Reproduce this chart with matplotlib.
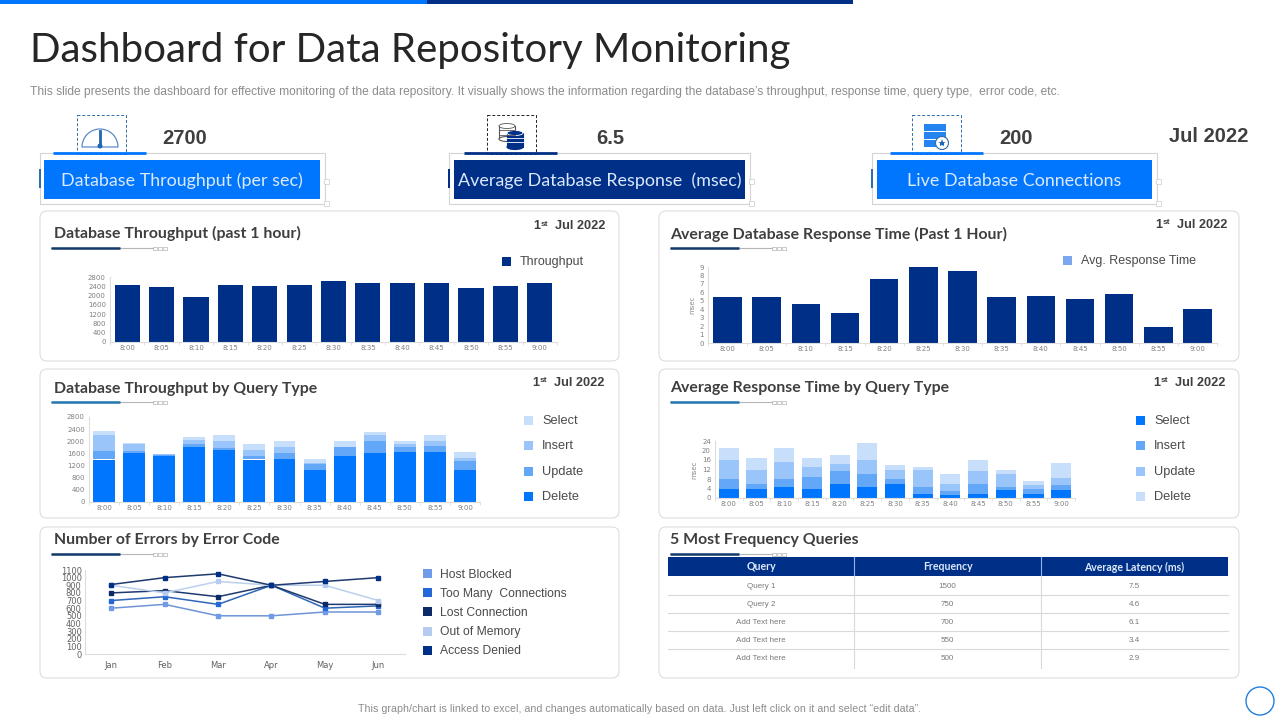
import matplotlib
matplotlib.use("Agg")
import matplotlib.pyplot as plt
from matplotlib.patches import Rectangle, FancyBboxPatch, Circle, Ellipse, Wedge

# === DATA ===
times = ["8:00", "8:05", "8:10", "8:15", "8:20", "8:25", "8:30", "8:35", "8:40", "8:45", "8:50", "8:55", "9:00"]
months = ["Jan", "Feb", "Mar", "Apr", "May", "Jun"]

throughput = [2450, 2380, 1930, 2460, 2420, 2450, 2640, 2550, 2550, 2550, 2340, 2420, 2550]
response = [5.5, 5.5, 4.6, 3.5, 7.6, 9, 8.5, 5.5, 5.6, 5.2, 5.8, 1.95, 4]

tp_delete = [1400, 1600, 1500, 1800, 1700, 1400, 1420, 1060, 1500, 1600, 1660, 1660, 1060]
tp_update = [280, 80, 40, 120, 80, 100, 200, 200, 300, 420, 140, 200, 300]
tp_insert = [540, 240, 30, 120, 240, 200, 200, 30, 0, 200, 120, 160, 90]
tp_select = [120, 30, 20, 110, 200, 220, 200, 110, 220, 100, 100, 200, 200]

rt_select = [4, 4, 4.8, 4, 6, 4.8, 6, 1.8, 1.4, 1.8, 3.2, 1.8, 3.2]
rt_insert = [4, 2, 3.2, 5, 5.2, 5.2, 2, 2.8, 1.6, 4.2, 1.4, 2.2, 2.4]
rt_update = [8, 6, 7, 4, 3, 6, 4, 7.4, 3, 5.2, 5.4, 1.6, 3]
rt_delete = [5, 5, 6, 4, 3.8, 7, 2, 1, 4, 4.8, 2, 1.4, 6]

err_host = [600, 650, 500, 500, 550, 550]
err_conn = [700, 750, 650, 900, 600, 630]
err_lost = [800, 830, 750, 900, 650, 650]
err_memory = [900, 800, 950, 900, 900, 700]
err_denied = [910, 1000, 1050, 900, 950, 1000]
err_names = ["Host Blocked", "Too Many  Connections", "Lost Connection", "Out of Memory", "Access Denied"]

table_head = ["Query", "Frequency", "Average Latency (ms)"]
table_query = ["Query 1", "Query 2", "Add Text here", "Add Text here", "Add Text here"]
table_freq = ["1500", "750", "700", "550", "500"]
table_lat = ["7.5", "4.6", "6.1", "3.4", "2.9"]

BLUE = "#0076FF"
NAVY = "#002F87"
MID = "#62A7F8"
LIGHT = "#99C5FA"
PALE = "#C8DFFC"
DARK = "#3F3F3F"
GREY = "#8C8C8C"
HEAD_FONT = "Lato"
BODY_FONT = "Liberation Sans"

fig = plt.figure(figsize=(12.8, 7.2), dpi=100)
bg = fig.add_axes([0, 0, 1, 1])
bg.set_xlim(0, 1280)
bg.set_ylim(720, 0)
bg.axis("off")


def rect(x0, y0, x1, y1, **kw):
    kw.setdefault("lw", 0)
    bg.add_patch(Rectangle((x0, y0), x1 - x0, y1 - y0, **kw))


def label(x, y, s, size=8, color=DARK, ha="left", font=BODY_FONT, weight="normal"):
    bg.text(x, y + 1, s, fontsize=size, color=color, ha=ha, va="center", family=font, fontweight=weight)


def chart_axes(x0, y_top, x1, y_bottom):
    ax = fig.add_axes([x0 / 1280, 1 - y_bottom / 720, (x1 - x0) / 1280, (y_bottom - y_top) / 720])
    ax.patch.set_alpha(0)
    for side in ["top", "right"]:
        ax.spines[side].set_visible(False)
    for side in ["left", "bottom"]:
        ax.spines[side].set_color("#DDDDDD")
        ax.spines[side].set_linewidth(0.8)
    ax.tick_params(axis="both", labelsize=5, colors="#808080", length=0, pad=2)
    ax.tick_params(axis="y", pad=3)
    return ax


def bar_chart(ax, stacks, colors, ymax, yticks):
    pos = list(range(len(times)))
    bottom = [0] * len(times)
    for vals, col in zip(stacks, colors):
        ax.bar(pos, vals, width=0.73, bottom=bottom, color=col)
        bottom = [b + v for b, v in zip(bottom, vals)]
    ax.set_xlim(-0.5, len(times) - 0.5)
    ax.set_ylim(0, ymax)
    ax.set_xticks(pos)
    ax.set_xticklabels(times)
    ax.set_yticks(yticks)
    # small separators under the axis, between the categories
    ax.set_xticks([p - 0.5 for p in pos] + [len(times) - 0.5], minor=True)
    ax.tick_params(axis="x", which="minor", length=2, color="#DDDDDD")


def panel(x0, y0, x1, y1, title, title_y, rule_y, rule_color, date_y=None, date_right=None):
    bg.add_patch(FancyBboxPatch((x0 + 5, y0 + 5), x1 - x0 - 10, y1 - y0 - 10,
                                boxstyle="round,pad=5,rounding_size=7", fc="white", ec="#D9D9D9", lw=0.7))
    tx = x0 + 14 if x0 < 100 else x0 + 11
    label(tx, title_y, title, size=11.4, font=HEAD_FONT, weight="bold")
    bg.plot([x0 + 11, x0 + 113], [rule_y, rule_y], color="#B5B5B5", lw=0.8)
    bg.plot([x0 + 11, x0 + 80], [rule_y, rule_y], color=rule_color, lw=1.8, solid_capstyle="butt")
    for k in range(3):
        rect(x0 + 113 + k * 5, rule_y - 1.5, x0 + 117 + k * 5, rule_y + 1.5, fc="white", ec="#B5B5B5", lw=0.5)
    if date_y is not None:
        right = date_right if date_right else x1 - 14
        label(right, date_y, "Jul 2022", size=9.2, ha="right", weight="bold")
        label(right - 61, date_y - 2, "st", size=6, ha="center", weight="bold")
        label(right - 68, date_y, "1", size=9.2, ha="center", weight="bold")


def kpi(x0, x1, bx0, bx1, ux0, dx0, color, tick_color, text, value, value_x):
    rect(x0, 153, x1, 204, fc="none", ec="#D4D4D4", lw=0.8)
    rect(x0 - 1.5, 169, x0 + 1, 188, fc=tick_color)
    rect(bx0, 160, bx1, 199, fc=color)
    label((bx0 + bx1) / 2, 179.5, text, size=12.9, color="#DCE9FB", ha="center", font=HEAD_FONT)
    bg.plot([ux0, ux0 + 93], [153, 153], color=color, lw=2, solid_capstyle="butt")
    rect(dx0, 115, dx0 + 49, 154, fc="none", ec="#2F6EA8" if color == BLUE else "#222222", lw=0.7, ls=(0, (3, 2)))
    rect(x1 - 1, 179, x1 + 4, 184, fc="white", ec="#D4D4D4", lw=0.6)
    rect(x1 - 1, 201, x1 + 4, 206, fc="white", ec="#D4D4D4", lw=0.6)
    label(value_x, 137, value, size=14.5, ha="left", weight="bold")


def legend_rows(x, ys, names, colors, size=9.2, text_dx=18):
    for y, name, col in zip(ys, names, colors):
        rect(x, y - 4.5, x + 9, y + 4.5, fc=col)
        label(x + text_dx, y, name, size=size, color="#4A4A4A")


# === HEADER ===
rect(0, 0, 427, 4, fc=BLUE)
rect(427, 0, 853, 4, fc=NAVY)
label(30, 49.5, "Dashboard for Data Repository Monitoring", size=29, color="#262626", font=HEAD_FONT)
label(30, 91, "This slide presents the dashboard for effective monitoring of the data repository. It visually shows the "
      "information regarding the database’s throughput, response time, query type,  error code, etc.",
      size=8.67, color=GREY)

kpi(40, 325, 44, 320, 53, 77, BLUE, "#2F6EA8", "Database Throughput (per sec)", "2700", 162)
kpi(449, 750, 454, 745, 464, 487, NAVY, NAVY, "Average Database Response  (msec)", "6.5", 596)
kpi(872, 1157, 877, 1152, 890, 912, BLUE, "#2F6EA8", "Live Database Connections", "200", 999)
label(1248, 136, "Jul 2022", size=14.5, ha="right", weight="bold")

# gauge icon
bg.add_patch(Wedge((100, 147), 18, 180, 360, fc="white", ec="#5B8CC8", lw=0.9))
bg.plot([100, 100], [131, 146], color="#1F66B5", lw=2)
bg.add_patch(Circle((100, 146), 2.5, fc="#1F66B5", lw=0))

# database icon
for cx, cy, h, col, fc in [(507, 126, 13, "#555555", "white"), (515, 133, 14, NAVY, NAVY)]:
    rect(cx - 8, cy, cx + 8, cy + h, fc=fc, ec=col, lw=0.8)
    bg.add_patch(Ellipse((cx, cy + h), 16, 5, fc=fc, ec=col, lw=0.8))
    bg.add_patch(Ellipse((cx, cy), 16, 5, fc=fc, ec=col if fc == "white" else "white", lw=0.6))
    for dy in [h / 3, 2 * h / 3]:
        bg.plot([cx - 8, cx + 8], [cy + dy, cy + dy], color="white" if fc != "white" else col, lw=0.6)

# server icon
for k in range(3):
    rect(924, 124 + k * 8, 946, 131 + k * 8, fc="#2484F0")
bg.add_patch(Circle((942, 143), 6.5, fc="white", ec="#2F6EA8", lw=0.8))
bg.plot([942], [143], marker="*", ms=6, color="#1F66B5", mew=0)

# === PANELS ===
panel(40, 211, 619, 361, "Database Throughput (past 1 hour)", 232, 248, "#123A6B", 225)
panel(659, 211, 1239, 361, "Average Database Response Time (Past 1 Hour)", 233, 248, "#123A6B", 224, date_right=1227)
panel(40, 369, 619, 518, "Database Throughput by Query Type", 388, 402, "#2377B0", 382, date_right=604)
panel(659, 369, 1239, 518, "Average Response Time by Query Type", 387, 402, "#2377B0", 382)
panel(40, 527, 619, 678, "Number of Errors by Error Code", 539, 554, "#123A6B")
panel(659, 527, 1239, 678, "5 Most Frequency Queries", 539, 554, "#123A6B")

# === CHARTS ===
ax = chart_axes(110, 277, 557, 342)
bar_chart(ax, [throughput], [NAVY], 2800, range(0, 2801, 400))
legend_rows(502, [261], ["Throughput"], [NAVY], size=9)

ax = chart_axes(708, 267, 1217, 343)
bar_chart(ax, [response], [NAVY], 9, range(0, 10))
ax.set_ylabel("msec", fontsize=5, color="#8C8C8C", labelpad=3)
legend_rows(1063, [260], ["Avg. Response Time"], ["#7BA7EE"], size=9)

ax = chart_axes(89, 417, 480, 502)
bar_chart(ax, [tp_delete, tp_update, tp_insert, tp_select], [BLUE, MID, LIGHT, PALE], 2800, range(0, 2801, 400))
legend_rows(524, [420, 445, 471, 496], ["Select", "Insert", "Update", "Delete"], [PALE, LIGHT, MID, BLUE])

ax = chart_axes(715, 441, 1075, 498)
bar_chart(ax, [rt_select, rt_insert, rt_update, rt_delete], [BLUE, MID, LIGHT, PALE], 24, range(0, 25, 4))
ax.set_ylabel("msec", fontsize=5, color="#8C8C8C", labelpad=3)
legend_rows(1136, [420, 445, 471, 496], ["Select", "Insert", "Update", "Delete"], [BLUE, MID, LIGHT, PALE])

ax = chart_axes(84.5, 570, 405, 654)
err_series = [err_host, err_conn, err_lost, err_memory, err_denied]
err_marks = ["#6F9BE8", "#2468D8", "#0B2A66", "#B5CBF0", NAVY]
err_lines = ["#6F94D6", "#2F66B8", "#1E3A6E", "#BCD0EE", "#1E3A6E"]
for vals, line_col, mark_col in zip(err_series, err_lines, err_marks):
    ax.plot(months, vals, color=line_col, lw=1.1, marker="s", ms=3, mfc=mark_col, mec=mark_col)
ax.set_xlim(-0.5, 5.5)
ax.set_ylim(0, 1100)
ax.set_yticks(range(0, 1101, 100))
ax.tick_params(axis="x", labelsize=6, pad=5, colors="#606060")
ax.tick_params(axis="y", labelsize=6, pad=2, colors="#606060")
legend_rows(423, [573.5, 592.5, 611.5, 631.5, 650.5], err_names, err_marks, size=8.7, text_dx=17)

# === TABLE ===
col_x = [668, 854, 1041, 1228]
rect(col_x[0], 557, col_x[3], 576, fc=NAVY)
row_y = [586, 604, 622, 640, 658]
for k in range(3):
    mid = (col_x[k] + col_x[k + 1]) / 2
    label(mid, 566, table_head[k], size=7.6, color="#DCE9FB", ha="center", font=HEAD_FONT, weight="bold")
for x in col_x[1:3]:
    bg.plot([x, x], [557, 576], color="#8FB4EE", lw=0.8)
    bg.plot([x, x], [576, 668], color="#D9D9D9", lw=0.8)
for y in row_y[:-1]:
    bg.plot([col_x[0], col_x[3]], [y + 9, y + 9], color="#D9D9D9", lw=0.8)
for y, q, f, l in zip(row_y, table_query, table_freq, table_lat):
    label((col_x[0] + col_x[1]) / 2, y, q, size=5.8, color="#7A7A7A", ha="center")
    label((col_x[1] + col_x[2]) / 2, y, f, size=5.8, color="#7A7A7A", ha="center")
    label((col_x[2] + col_x[3]) / 2, y, l, size=5.8, color="#7A7A7A", ha="center")

# === FOOTER ===
label(640, 708, "This graph/chart is linked to excel, and changes automatically based on data. "
      "Just left click on it and select “edit data”.", size=7.65, color=GREY, ha="center")
bg.add_patch(Circle((1260, 701), 14, fc="white", ec="#1F7FE0", lw=1))

fig.savefig("out.png", dpi=100)
